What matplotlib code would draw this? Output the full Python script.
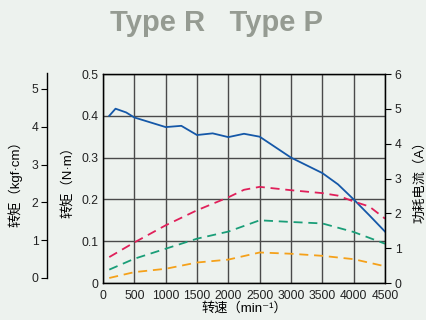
import matplotlib
matplotlib.use("Agg")
import matplotlib.pyplot as plt
from matplotlib import font_manager as fm

speed_blue = [100, 200, 370, 500, 1000, 1250, 1500, 1750, 2000, 2250, 2500, 2750, 3000, 3500, 3750, 4000, 4250, 4500]
torque_blue = [0.400, 0.417, 0.408, 0.396, 0.373, 0.376, 0.354, 0.358, 0.349, 0.357, 0.350, 0.325, 0.300, 0.263, 0.236, 0.200, 0.162, 0.123]

speed_red = [100, 500, 1000, 1500, 2000, 2250, 2500, 3000, 3500, 3750, 4000, 4250, 4500]
val_red = [0.062, 0.097, 0.138, 0.174, 0.205, 0.223, 0.230, 0.222, 0.215, 0.209, 0.195, 0.183, 0.154]

speed_green = [100, 500, 1000, 1500, 2000, 2500, 3000, 3500, 4000, 4500]
val_green = [0.032, 0.058, 0.082, 0.106, 0.123, 0.150, 0.146, 0.1425, 0.122, 0.094]

speed_orange = [100, 500, 1000, 1500, 2000, 2500, 3000, 3500, 4000, 4500]
val_orange = [0.012, 0.026, 0.034, 0.049, 0.056, 0.073, 0.070, 0.065, 0.057, 0.040]

x_ticks = [0, 500, 1000, 1500, 2000, 2500, 3000, 3500, 4000, 4500]
nm_ticks = [0, 0.1, 0.2, 0.3, 0.4, 0.5]
nm_labels = ["0", "0.1", "0.2", "0.3", "0.4", "0.5"]
kgf_ticks = [0, 1, 2, 3, 4, 5]
amp_ticks = [0, 1, 2, 3, 4, 5, 6]

numfp = fm.FontProperties(family="Liberation Sans", size=8.7)

lab_family = ["Liberation Sans", "Noto Sans CJK SC", "DejaVu Sans"]
lab_size = 9.5

bg = "#edf2ee"
W, H = 426, 320
fig = plt.figure(figsize=(W/100, H/100), dpi=100, facecolor=bg)

def box(l, t, r, b):
    return [l/W, 1 - b/H, (r-l)/W, (b-t)/H]

ax = fig.add_axes(box(103, 74, 385, 283))
ax.set_facecolor(bg)
ax.plot(speed_blue, torque_blue, color="#1558a8", lw=1.3)
dash = (0, (5, 3.2))
ax.plot(speed_red, val_red, color="#e0205a", lw=1.3, linestyle=dash)
ax.plot(speed_green, val_green, color="#1a9e78", lw=1.3, linestyle=dash)
ax.plot(speed_orange, val_orange, color="#f5a11a", lw=1.3, linestyle=dash)
ax.set_xlim(0, 4500)
ax.set_ylim(0, 0.5)
ax.set_xticks(x_ticks)
ax.set_yticks(nm_ticks)
ax.set_yticklabels(nm_labels)
ax.grid(True, color="#4a4a4a", lw=1.0)
ax.set_axisbelow(True)
for s in ax.spines.values():
    s.set_color("black"); s.set_linewidth(1.0)
ax.tick_params(axis="y", direction="out", length=0, pad=3, labelcolor="#222222")
ax.tick_params(axis="x", direction="out", length=0, pad=5, labelcolor="#222222")
for lab in ax.get_xticklabels() + ax.get_yticklabels():
    lab.set_fontproperties(numfp)
ax.set_xlabel("转速（min⁻¹）", family=lab_family, fontsize=lab_size, labelpad=0)
ax.set_ylabel("转矩（N·m）", family=lab_family, fontsize=lab_size, labelpad=5)

axr = ax.twinx()
axr.set_ylim(0, 6)
axr.set_yticks(amp_ticks)
axr.tick_params(direction="out", length=4, width=0.8, pad=3, labelcolor="#222222")
for lab in axr.get_yticklabels():
    lab.set_fontproperties(numfp)
axr.set_ylabel("功耗电流（A）", family=lab_family, fontsize=lab_size, labelpad=9)

axk = fig.add_axes(box(47, 73, 48, 278))
axk.patch.set_visible(False)
axk.set_ylim(0, 5.42)
axk.set_yticks(kgf_ticks)
axk.set_xticks([])
for k in ["top", "right", "bottom"]:
    axk.spines[k].set_visible(False)
axk.spines["left"].set_linewidth(1.0)
axk.tick_params(direction="out", length=4, width=0.8, pad=2, labelcolor="#222222")
for lab in axk.get_yticklabels():
    lab.set_fontproperties(numfp)
fig.text(15/W, 1 - 181/H, "转矩（kgf·cm）", rotation=90, family=lab_family, fontsize=lab_size,
         ha="center", va="center")

fig.text(216/W, 1 - 23/H, "Type R   Type P", family="Liberation Sans", fontweight="bold",
         fontsize=21, color="#959b92", ha="center", va="center")

fig.savefig("out.png", dpi=100, facecolor=bg)
